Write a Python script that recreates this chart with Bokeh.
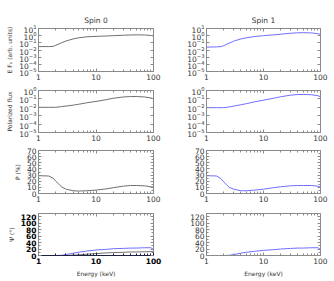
from bokeh.plotting import figure
from bokeh.layouts import column, row
from bokeh.models import FixedTicker, LogAxis, LinearAxis, BasicTickFormatter
from bokeh.embed import file_html
from bokeh.resources import INLINE

# ---------------- data ----------------
energy = [1, 1.5, 1.8, 2, 2.5, 3, 4, 5, 7, 10, 15, 20, 30, 40, 50, 70, 90, 100]

flux_spin0 = [0.03, 0.03, 0.032, 0.045, 0.1, 0.18, 0.35, 0.5, 0.7, 0.8, 0.9, 1.0, 1.15, 1.25, 1.3, 1.25, 1.05, 0.9]
flux_spin1 = [0.025, 0.027, 0.03, 0.04, 0.09, 0.17, 0.35, 0.5, 0.75, 1.0, 1.3, 1.6, 2.2, 2.5, 2.6, 2.4, 1.9, 1.5]

pflux_spin0 = [0.01, 0.01, 0.01, 0.01, 0.012, 0.014, 0.018, 0.023, 0.035, 0.05, 0.08, 0.12, 0.17, 0.19, 0.19, 0.17, 0.13, 0.1]
pflux_spin1 = [0.009, 0.009, 0.009, 0.009, 0.011, 0.014, 0.02, 0.027, 0.045, 0.07, 0.12, 0.18, 0.28, 0.33, 0.34, 0.31, 0.24, 0.18]

pdeg_spin0 = [29, 28.5, 25, 20, 11, 7, 4.5, 4, 4.5, 5.5, 7.5, 9.5, 12, 13, 13, 12.5, 11, 10.5]
pdeg_spin1 = [29, 28.5, 24, 19, 10, 7, 4.5, 4.5, 5.5, 7, 9.5, 11, 12.5, 13, 13, 13, 12, 10.5]

psi_spin0_a = [0, 0, 0, 0, 0.5, 3, 7, 10, 14, 17, 19, 21, 22, 23, 23, 24, 24, 19]
psi_spin0_b = [0, 0, 0, 0, 0, 0, 1, 2, 4, 6, 8, 9, 10, 11, 11, 11.5, 12, 12]
psi_spin1 = [0, 0, 0, 0, 0.5, 3, 7, 10, 13, 16, 18, 20, 22, 23, 23, 24, 24, 19]

x_ticks = [1, 10, 100]
x_minor = [2, 3, 4, 5, 6, 7, 8, 9, 20, 30, 40, 50, 60, 70, 80, 90]
flux_ticks = [1e-5, 1e-4, 1e-3, 1e-2, 1e-1, 1, 10]
pflux_ticks = [1e-5, 1e-4, 1e-3, 1e-2, 1e-1, 1]
pdeg_ticks = [0, 10, 20, 30, 40, 50, 60, 70]
pdeg_minor = [5, 15, 25, 35, 45, 55, 65]
psi_ticks = [0, 20, 40, 60, 80, 100, 120]
psi_minor = [10, 30, 50, 70, 90, 110]

GREY = "#707070"
BLUE = "#6f6fff"
FRAME = "#8a8a8a"
TXT = "#333333"
FONT = "DejaVu Sans"


def style_axis(ax, bold=False, dark=False):
    ax.major_tick_in = 3
    ax.major_tick_out = 0
    ax.minor_tick_in = 2
    ax.minor_tick_out = 0
    col = "#202040" if dark else FRAME
    ax.axis_line_color = col
    ax.major_tick_line_color = col
    ax.minor_tick_line_color = col
    ax.major_label_text_font = FONT
    ax.major_label_text_font_size = "7.5px"
    ax.major_label_text_color = "#000000" if bold else TXT
    ax.major_label_text_font_style = "bold" if bold else "normal"
    ax.major_label_standoff = 2
    ax.axis_label_text_font = FONT
    ax.axis_label_text_font_size = "6px"
    ax.axis_label_text_font_style = "normal"
    ax.axis_label_text_color = TXT
    ax.axis_label_standoff = 3


def hidden_axis(kind, ticks, minor):
    cls = LogAxis if kind == "log" else LinearAxis
    ax = cls(ticker=FixedTicker(ticks=ticks, minor_ticks=minor), formatter=BasicTickFormatter())
    style_axis(ax)
    ax.major_label_text_font_size = "1px"
    ax.major_label_text_alpha = 0
    ax.major_label_standoff = 0
    ax.axis_line_color = None
    return ax


def make_panel(left, ytype, yrange, yticks, yminor, ylabel, xlabel, height, btop, bbottom,
               title=None, bold=False):
    width = 180 if left else 154
    bl = 38 if left else 26
    br = 27 if left else 14
    p = figure(width=width, height=height, x_axis_type="log", y_axis_type=ytype,
               x_range=(1, 100), y_range=yrange, output_backend="svg",
               toolbar_location=None, min_border_left=bl, min_border_right=br,
               min_border_top=btop, min_border_bottom=bbottom)
    p.xgrid.visible = False
    p.ygrid.visible = False
    p.outline_line_color = FRAME
    p.background_fill_color = "white"
    p.border_fill_color = "white"
    if title:
        p.title.text = title
        p.title.align = "center"
        p.title.text_font = FONT
        p.title.text_font_size = "7.5px"
        p.title.text_font_style = "normal"
        p.title.text_color = TXT
        p.title.standoff = 8

    p.xaxis.ticker = FixedTicker(ticks=x_ticks, minor_ticks=x_minor)
    p.xaxis.formatter = BasicTickFormatter()
    p.yaxis.ticker = FixedTicker(ticks=yticks, minor_ticks=yminor)
    style_axis(p.xaxis[0], bold=bold, dark=bold)
    style_axis(p.yaxis[0], bold=bold)
    if xlabel:
        p.xaxis.axis_label = xlabel
    if ylabel and left:
        p.yaxis.axis_label = ylabel

    p.add_layout(hidden_axis("log", x_ticks, x_minor), "above")
    p.add_layout(hidden_axis(ytype, yticks, yminor), "right")
    return p


# Row 1: flux
f00 = make_panel(True, "log", (1e-5, 10), flux_ticks, [], "E Fₑ (arb. units)", None, 84, 28, 13, title="Spin 0")
f00.line(energy, flux_spin0, line_color=GREY, line_width=1)
f01 = make_panel(False, "log", (1e-5, 10), flux_ticks, [], None, None, 84, 28, 13, title="Spin 1")
f01.line(energy, flux_spin1, line_color=BLUE, line_width=1)

# Row 2: polarized flux
f10 = make_panel(True, "log", (1e-5, 1), pflux_ticks, [], "Polarized flux", None, 62, 6, 14)
f10.line(energy, pflux_spin0, line_color=GREY, line_width=1)
f11 = make_panel(False, "log", (1e-5, 1), pflux_ticks, [], None, None, 62, 6, 14)
f11.line(energy, pflux_spin1, line_color=BLUE, line_width=1)

# Row 3: polarization degree
f20 = make_panel(True, "linear", (0, 70), pdeg_ticks, pdeg_minor, "P (%)", None, 61, 4, 14)
f20.line(energy, pdeg_spin0, line_color=GREY, line_width=1)
f21 = make_panel(False, "linear", (0, 70), pdeg_ticks, pdeg_minor, None, None, 61, 4, 14)
f21.line(energy, pdeg_spin1, line_color=BLUE, line_width=1)

# Row 4: polarization angle
f30 = make_panel(True, "linear", (0, 130), psi_ticks, psi_minor, "Ψ (°)", "Energy (keV)", 74, 6, 26, bold=True)
f30.line(energy, psi_spin0_a, line_color=BLUE, line_width=1)
f30.line(energy, psi_spin0_b, line_color=GREY, line_width=1)
f31 = make_panel(False, "linear", (0, 130), psi_ticks, psi_minor, None, "Energy (keV)", 74, 6, 26)
f31.line(energy, psi_spin1, line_color=BLUE, line_width=1)

layout = column(row(f00, f01), row(f10, f11), row(f20, f21), row(f30, f31))

open("out.html", "w").write(file_html(layout, INLINE))
